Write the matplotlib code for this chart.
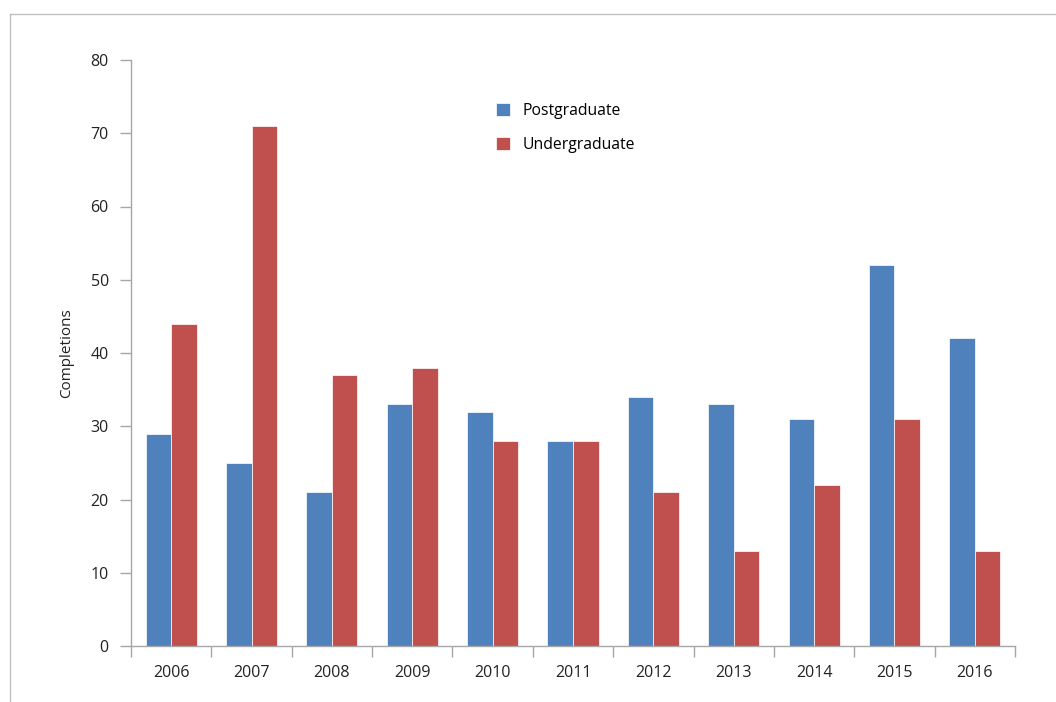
import matplotlib
matplotlib.use("Agg")
import matplotlib.pyplot as plt
import numpy as np
from matplotlib.lines import Line2D

years = ["2006", "2007", "2008", "2009", "2010", "2011", "2012", "2013", "2014", "2015", "2016"]
postgraduate = [29, 25, 21, 33, 32, 28, 34, 33, 31, 52, 42]
undergraduate = [44, 71, 37, 38, 28, 28, 21, 13, 22, 31, 13]

plt.rcParams['font.family'] = ['Open Sans', 'DejaVu Sans']

W, H = 1056, 702
fig = plt.figure(figsize=(W / 100, H / 100), dpi=100)
ax = fig.add_axes([131 / W, 1 - 646 / H, (1015 - 131) / W, (646 - 60) / H])

x = np.arange(len(years))
bw = 0.318
blue = "#4F81BD"
red = "#C0504D"
ax.bar(x - bw / 2, postgraduate, bw, color=blue, edgecolor="white", linewidth=0.5, label="Postgraduate")
ax.bar(x + bw / 2, undergraduate, bw, color=red, edgecolor="white", linewidth=0.5, label="Undergraduate")

ax.set_xlim(-0.5, len(years) - 0.5)
ax.set_ylim(0, 80)
ax.set_yticks(range(0, 81, 10))
ax.set_xticks(x)
ax.set_xticklabels(years)
ax.set_xticks(np.arange(-0.5, len(years), 1.0), minor=True)

for s in ["top", "right"]:
    ax.spines[s].set_visible(False)
for s in ["left", "bottom"]:
    ax.spines[s].set_color("#A6A6A6")
    ax.spines[s].set_linewidth(1)

ax.tick_params(axis="x", which="major", length=0, pad=14, labelsize=11.5, labelcolor="#222222")
ax.tick_params(axis="x", which="minor", length=8, color="#A6A6A6", width=1)
ax.tick_params(axis="y", length=8, color="#A6A6A6", width=1, pad=8, labelsize=11.5, labelcolor="#222222")
ax.set_ylabel("Completions", fontsize=11, color="#222222", labelpad=12)

ax.legend(loc="upper left", bbox_to_anchor=((490 - 131) / (1015 - 131), 1 - (97 - 60) / 586),
          frameon=False, fontsize=11.3, handlelength=0.9, handleheight=0.9,
          labelspacing=1.15, handletextpad=0.75, borderaxespad=0)

# outer frame lines (top and left)
fig.add_artist(Line2D([10 / W, 1], [1 - 14 / H, 1 - 14 / H], transform=fig.transFigure, color="#C0C0C0", linewidth=1))
fig.add_artist(Line2D([10 / W, 10 / W], [1 - 14 / H, 0], transform=fig.transFigure, color="#C0C0C0", linewidth=1))

fig.savefig("out.png", dpi=100)
